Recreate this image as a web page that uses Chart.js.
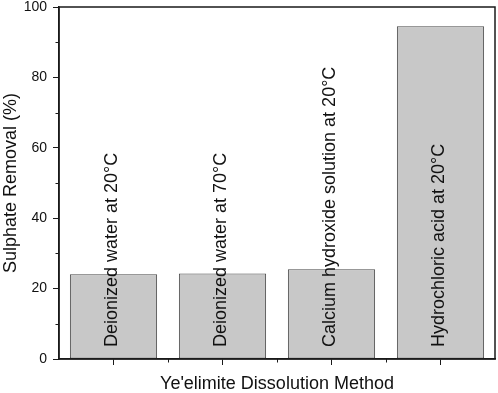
<!DOCTYPE html>
<html>
<head>
<meta charset="utf-8">
<script src="https://cdn.jsdelivr.net/npm/chart.js@4.4.1/dist/chart.umd.min.js"></script>
<style>
  html, body { margin: 0; padding: 0; background: #fff; }
  #wrap { width: 498px; height: 393px; position: relative; }
</style>
</head>
<body>
<div id="wrap"><canvas id="chart"></canvas></div>
<script>
// values
const methods = [
  "Deionized water at 20°C",
  "Deionized water at 70°C",
  "Calcium hydroxide solution at 20°C",
  "Hydrochloric acid at 20°C",
];
const removal = [24.1, 24.3, 25.5, 94.5];

const Y_MIN = 0;
const Y_MAX = 100;
const Y_STEP = 20;

const FONT = "'Liberation Sans', Arial, Helvetica, sans-serif";
const INK = "#111";
const AXIS = "#1a1a1a";

// outer frame plus the short minor ticks between the major ones
const frameAndMinorTicks = {
  id: "frameAndMinorTicks",
  afterDraw(chart) {
    const { ctx, chartArea: a, scales: { x, y } } = chart;
    ctx.save();
    ctx.strokeStyle = AXIS;
    ctx.lineWidth = 1.5;
    ctx.strokeRect(a.left, a.top, a.right - a.left, a.bottom - a.top);

    ctx.lineWidth = 1;
    ctx.beginPath();
    const yt = y.ticks;
    for (let i = 0; i + 1 < yt.length; i++) {
      const py = Math.round(y.getPixelForValue((yt[i].value + yt[i + 1].value) / 2)) + 0.5;
      ctx.moveTo(a.left - 3.5, py);
      ctx.lineTo(a.left, py);
    }
    for (let i = 1; i < x.ticks.length; i++) {
      const px = Math.round((x.getPixelForTick(i - 1) + x.getPixelForTick(i)) / 2) + 0.5;
      ctx.moveTo(px, a.bottom);
      ctx.lineTo(px, a.bottom + 3.5);
    }
    ctx.stroke();
    ctx.restore();
  },
};

// the category names sit inside the bars, rotated, reading upward
const barLabels = {
  id: "barLabels",
  afterDatasetsDraw(chart) {
    const { ctx } = chart;
    const meta = chart.getDatasetMeta(0);
    const base = chart.scales.y.getPixelForValue(0);
    ctx.save();
    ctx.font = `18px ${FONT}`;
    ctx.fillStyle = INK;
    ctx.textAlign = "left";
    ctx.textBaseline = "middle";
    meta.data.forEach((bar, i) => {
      ctx.save();
      ctx.translate(bar.x - 1, base - 12);
      ctx.rotate(-Math.PI / 2);
      ctx.fillText(methods[i], 0, 0);
      ctx.restore();
    });
    ctx.restore();
  },
};

new Chart(document.getElementById("chart"), {
  type: "bar",
  data: {
    labels: methods,
    datasets: [{
      data: removal,
      backgroundColor: "#c8c8c8",
      borderColor: "#4a4a4a",
      borderWidth: 1,
      borderSkipped: false,
      barPercentage: 0.8,
      categoryPercentage: 1,
    }],
  },
  options: {
    responsive: true,
    maintainAspectRatio: false,
    animation: false,
    devicePixelRatio: 1,
    layout: { padding: { top: 7, right: 3, left: 0, bottom: 0 } },
    plugins: { legend: { display: false }, tooltip: { enabled: false } },
    scales: {
      x: {
        offset: true,
        grid: { offset: false, drawOnChartArea: false, drawTicks: true, tickLength: 6, color: AXIS, tickColor: AXIS },
        border: { display: true, color: AXIS, width: 1.5 },
        ticks: { display: false },
        title: {
          display: true,
          text: "Ye'elimite Dissolution Method",
          color: INK,
          font: { family: FONT, size: 18, lineHeight: 1 },
          padding: { top: 0, bottom: 0 },
        },
        afterFit(scale) {
          scale.height = 34;
          scale.paddingLeft = 0;
          scale.paddingRight = 0;
        },
      },
      y: {
        min: Y_MIN,
        max: Y_MAX,
        grid: { drawOnChartArea: false, drawTicks: true, tickLength: 6, color: AXIS, tickColor: AXIS },
        border: { display: true, color: AXIS, width: 1.5 },
        ticks: { stepSize: Y_STEP, color: INK, padding: 6, font: { family: FONT, size: 14, lineHeight: 1 } },
        title: {
          display: true,
          text: "Sulphate Removal (%)",
          color: INK,
          font: { family: FONT, size: 18 },
          padding: 0,
        },
        afterFit(scale) {
          scale.width = 59;
          scale.paddingTop = 0;
          scale.paddingBottom = 0;
        },
      },
    },
  },
  plugins: [frameAndMinorTicks, barLabels],
});
</script>
</body>
</html>
